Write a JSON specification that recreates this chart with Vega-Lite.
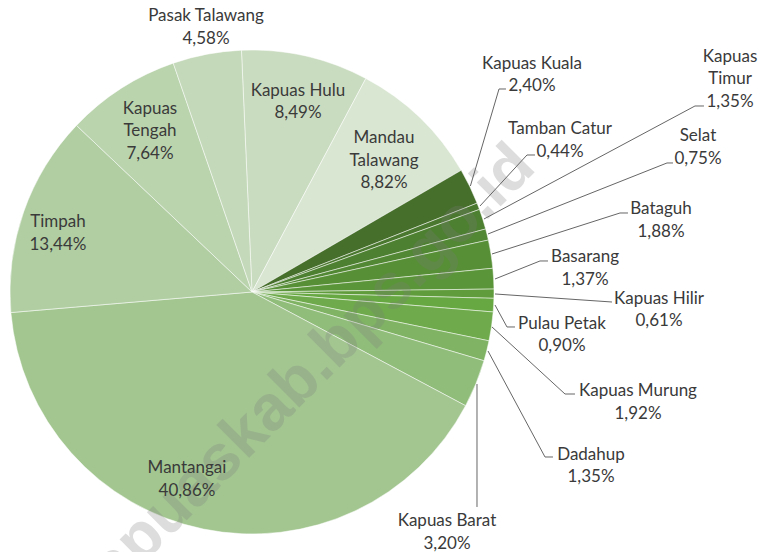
{
  "$schema": "https://vega.github.io/schema/vega-lite/v6.json",
  "width": 762,
  "height": 552,
  "autosize": {"type": "none"},
  "padding": 0,
  "background": "white",
  "config": {"view": {"stroke": null}},
  "datasets": {
    "slices": [
      {"idx": 1, "name": "Kapuas Hulu", "share": 8.49},
      {"idx": 2, "name": "Mandau Talawang", "share": 8.82},
      {"idx": 3, "name": "Kapuas Kuala", "share": 2.40},
      {"idx": 4, "name": "Tamban Catur", "share": 0.44},
      {"idx": 5, "name": "Kapuas Timur", "share": 1.35},
      {"idx": 6, "name": "Selat", "share": 0.75},
      {"idx": 7, "name": "Bataguh", "share": 1.88},
      {"idx": 8, "name": "Basarang", "share": 1.37},
      {"idx": 9, "name": "Kapuas Hilir", "share": 0.61},
      {"idx": 10, "name": "Pulau Petak", "share": 0.90},
      {"idx": 11, "name": "Kapuas Murung", "share": 1.92},
      {"idx": 12, "name": "Dadahup", "share": 1.35},
      {"idx": 13, "name": "Kapuas Barat", "share": 3.20},
      {"idx": 14, "name": "Mantangai", "share": 40.86},
      {"idx": 15, "name": "Timpah", "share": 13.44},
      {"idx": 16, "name": "Kapuas Tengah", "share": 7.64},
      {"idx": 17, "name": "Pasak Talawang", "share": 4.58}
    ],
    "labels": [
      {"name": "Pasak Talawang", "label": "Pasak Talawang\n4,58%", "lx": -18.93, "ly": 113.4},
      {"name": "Kapuas Hulu", "label": "Kapuas Hulu\n8,49%", "lx": 18.93, "ly": 82.9},
      {"name": "Mandau Talawang", "label": "Mandau\nTalawang\n8,82%", "lx": 54.32, "ly": 63.2},
      {"name": "Kapuas Tengah", "label": "Kapuas\nTengah\n7,64%", "lx": -41.98, "ly": 75.5},
      {"name": "Timpah", "label": "Timpah\n13,44%", "lx": -79.84, "ly": 28.6},
      {"name": "Mantangai", "label": "Mantangai\n40,86%", "lx": -26.75, "ly": -72.6},
      {"name": "Kapuas Kuala", "label": "Kapuas Kuala\n2,40%", "lx": 115.23, "ly": 94.0},
      {"name": "Tamban Catur", "label": "Tamban Catur\n0,44%", "lx": 126.75, "ly": 66.9},
      {"name": "Kapuas Timur", "label": "Kapuas\nTimur\n1,35%", "lx": 196.71, "ly": 96.9},
      {"name": "Selat", "label": "Selat\n0,75%", "lx": 183.54, "ly": 64.0},
      {"name": "Bataguh", "label": "Bataguh\n1,88%", "lx": 168.31, "ly": 34.0},
      {"name": "Basarang", "label": "Basarang\n1,37%", "lx": 137.04, "ly": 14.2},
      {"name": "Kapuas Hilir", "label": "Kapuas Hilir\n0,61%", "lx": 167.49, "ly": -2.7},
      {"name": "Pulau Petak", "label": "Pulau Petak\n0,90%", "lx": 127.57, "ly": -13.0},
      {"name": "Kapuas Murung", "label": "Kapuas Murung\n1,92%", "lx": 158.85, "ly": -40.9},
      {"name": "Dadahup", "label": "Dadahup\n1,35%", "lx": 139.51, "ly": -66.9},
      {"name": "Kapuas Barat", "label": "Kapuas Barat\n3,20%", "lx": 80.25, "ly": -94.4}
    ],
    "leaders": [
      {"name": "Kapuas Kuala", "o": 1, "px": 89.88, "py": 43.62},
      {"name": "Kapuas Kuala", "o": 2, "px": 101.65, "py": 83.54},
      {"name": "Kapuas Kuala", "o": 3, "px": 104.53, "py": 83.54},
      {"name": "Tamban Catur", "o": 1, "px": 93.83, "py": 35.39},
      {"name": "Tamban Catur", "o": 2, "px": 113.17, "py": 56.38},
      {"name": "Tamban Catur", "o": 3, "px": 116.46, "py": 56.38},
      {"name": "Kapuas Timur", "o": 1, "px": 95.47, "py": 30.04},
      {"name": "Kapuas Timur", "o": 2, "px": 182.30, "py": 76.54},
      {"name": "Kapuas Timur", "o": 3, "px": 186.01, "py": 76.54},
      {"name": "Selat", "o": 1, "px": 97.12, "py": 23.87},
      {"name": "Selat", "o": 2, "px": 170.78, "py": 53.09},
      {"name": "Selat", "o": 3, "px": 173.25, "py": 53.09},
      {"name": "Bataguh", "o": 1, "px": 98.77, "py": 15.64},
      {"name": "Bataguh", "o": 2, "px": 151.44, "py": 32.51},
      {"name": "Bataguh", "o": 3, "px": 154.73, "py": 32.51},
      {"name": "Basarang", "o": 1, "px": 100.0, "py": 5.35},
      {"name": "Basarang", "o": 2, "px": 118.52, "py": 12.76},
      {"name": "Basarang", "o": 3, "px": 121.81, "py": 12.76},
      {"name": "Kapuas Hilir", "o": 1, "px": 100.0, "py": -0.82},
      {"name": "Kapuas Hilir", "o": 2, "px": 148.15, "py": -4.12},
      {"name": "Pulau Petak", "o": 1, "px": 100.0, "py": -5.35},
      {"name": "Pulau Petak", "o": 2, "px": 104.94, "py": -14.40},
      {"name": "Pulau Petak", "o": 3, "px": 108.23, "py": -14.40},
      {"name": "Kapuas Murung", "o": 1, "px": 98.77, "py": -14.40},
      {"name": "Kapuas Murung", "o": 2, "px": 128.81, "py": -41.98},
      {"name": "Kapuas Murung", "o": 3, "px": 132.92, "py": -41.98},
      {"name": "Dadahup", "o": 1, "px": 97.12, "py": -24.28},
      {"name": "Dadahup", "o": 2, "px": 120.58, "py": -67.90},
      {"name": "Dadahup", "o": 3, "px": 123.87, "py": -67.90},
      {"name": "Kapuas Barat", "o": 1, "px": 92.59, "py": -37.86},
      {"name": "Kapuas Barat", "o": 2, "px": 92.59, "py": -88.48}
    ],
    "watermark": [
      {"text": "kapuaskab.bps.go.id", "wx": 117.57, "wy": 50.49}
    ]
  },
  "layer": [
    {
      "data": {"name": "slices"},
      "mark": {"type": "arc", "outerRadius": 242, "stroke": "white", "strokeWidth": 0.5},
      "encoding": {
        "x": {"datum": 0, "type": "quantitative", "scale": {"domain": [-103.70, 209.88], "nice": false, "zero": false}, "axis": null},
        "y": {"datum": 0, "type": "quantitative", "scale": {"domain": [-107.0, 120.16], "nice": false, "zero": false}, "axis": null},
        "theta": {"field": "share", "type": "quantitative", "stack": true, "scale": {"range": [-0.0436, 6.2396]}},
        "order": {"field": "idx", "type": "quantitative"},
        "color": {
          "field": "name",
          "type": "nominal",
          "legend": null,
          "scale": {
            "domain": ["Kapuas Hulu", "Mandau Talawang", "Kapuas Kuala", "Tamban Catur", "Kapuas Timur", "Selat", "Bataguh", "Basarang", "Kapuas Hilir", "Pulau Petak", "Kapuas Murung", "Dadahup", "Kapuas Barat", "Mantangai", "Timpah", "Kapuas Tengah", "Pasak Talawang"],
            "range": ["#cadcc0", "#d9e6d2", "#466f2b", "#4a782e", "#4e8031", "#528734", "#578f36", "#5b9539", "#609c3c", "#68a843", "#6fab4c", "#80b464", "#91bd7b", "#a3c691", "#b0cea2", "#bad4ae", "#c4d9b9"]
          }
        }
      }
    },
    {
      "data": {"name": "watermark"},
      "mark": {"type": "text", "font": "Liberation Sans", "fontWeight": "bold", "fontSize": 64, "angle": -45, "align": "right", "baseline": "alphabetic", "fill": "#7a7a7a", "opacity": 0.25},
      "encoding": {
        "x": {"field": "wx", "type": "quantitative", "scale": {"domain": [-103.70, 209.88], "nice": false, "zero": false}, "axis": null},
        "y": {"field": "wy", "type": "quantitative", "scale": {"domain": [-107.0, 120.16], "nice": false, "zero": false}, "axis": null},
        "text": {"field": "text"}
      }
    },
    {
      "data": {"name": "leaders"},
      "mark": {"type": "line", "stroke": "#666666", "strokeWidth": 1, "interpolate": "linear"},
      "encoding": {
        "x": {"field": "px", "type": "quantitative", "scale": {"domain": [-103.70, 209.88], "nice": false, "zero": false}, "axis": null},
        "y": {"field": "py", "type": "quantitative", "scale": {"domain": [-107.0, 120.16], "nice": false, "zero": false}, "axis": null},
        "detail": {"field": "name"},
        "order": {"field": "o", "type": "quantitative"}
      }
    },
    {
      "data": {"name": "labels"},
      "mark": {"type": "text", "font": "Lato", "fontSize": 17, "fill": "#3a3a3a", "align": "center", "baseline": "middle", "lineBreak": "\n", "lineHeight": 22.5},
      "encoding": {
        "x": {"field": "lx", "type": "quantitative", "scale": {"domain": [-103.70, 209.88], "nice": false, "zero": false}, "axis": null},
        "y": {"field": "ly", "type": "quantitative", "scale": {"domain": [-107.0, 120.16], "nice": false, "zero": false}, "axis": null},
        "text": {"field": "label"}
      }
    }
  ]
}
